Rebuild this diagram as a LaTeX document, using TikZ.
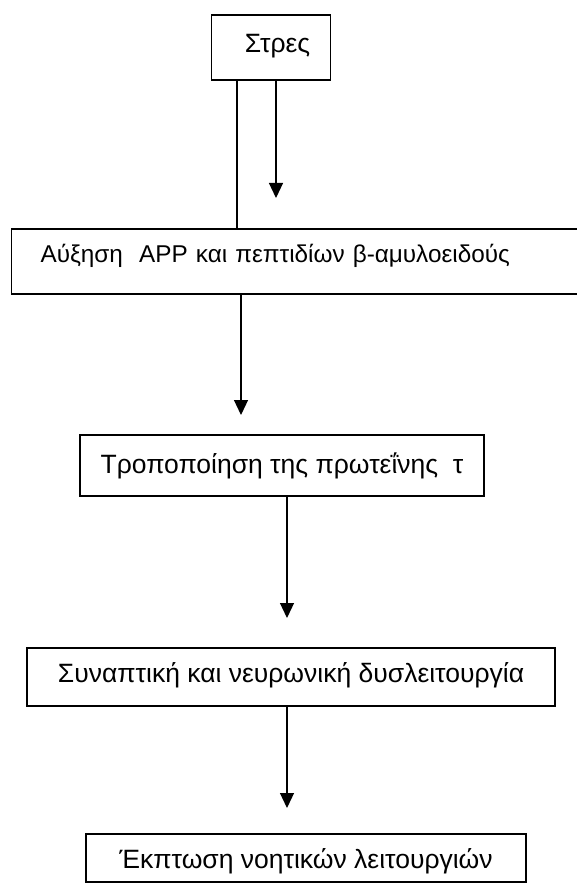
\documentclass[tikz,border=0pt]{standalone}
\usepackage{fontspec}
\setmainfont{Liberation Sans}
\usetikzlibrary{arrows.meta}

\begin{document}
\begin{tikzpicture}[x=1pt,y=-1pt,
  box/.style={draw,line width=1.2pt,inner ysep=0pt,inner xsep=0pt,
    font=\fontsize{26.5}{30}\selectfont},
  flow/.style={line width=1.2pt,-{Triangle[width=14pt,length=15pt]}},
  link/.style={line width=1.2pt}]

\useasboundingbox (0,0) rectangle (577,885);

% boxes, placed at their baselines
\node[box,anchor=base west,text width=119pt,inner xsep=0pt,align=center,text height=38pt,text depth=27pt] (stres) at (211,53) {\hspace*{13pt}Στρες};
\node[box,anchor=base west,text width=513pt,inner xsep=29pt,align=left,text height=33pt,text depth=32pt,
  font=\fontsize{24.3}{28}\selectfont] (afxisi) at (11,262) {Αύξηση\ \ APP και πεπτιδίων β-αμυλοειδούς};
\node[box,anchor=base,minimum width=404pt,text height=38pt,text depth=23pt] (tropo) at (282,473) {Τροποποίηση της πρωτεΐνης\ \ τ};
\node[box,anchor=base,minimum width=528pt,text height=34pt,text depth=24pt] (synapt) at (291,682) {Συναπτική και νευρωνική δυσλειτουργία};
\node[box,anchor=base,minimum width=440pt,text height=34pt,text depth=14pt] (ekptosi) at (306,868) {Έκπτωση νοητικών λειτουργιών};

% free ends of the arrows
\coordinate (foot1) at (237,229);
\coordinate (tip1) at (276,198);
\coordinate (tip2) at (241,415);
\coordinate (tip3) at (287,618);
\coordinate (tip4) at (287,808);

\draw[link] (stres.south -| foot1) -- (afxisi.north -| foot1);
\draw[flow] (stres.south -| tip1) -- (tip1);
\draw[flow] (afxisi.south -| tip2) -- (tip2);
\draw[flow] (tropo.south -| tip3) -- (tip3);
\draw[flow] (synapt.south -| tip4) -- (tip4);

\end{tikzpicture}
\end{document}
